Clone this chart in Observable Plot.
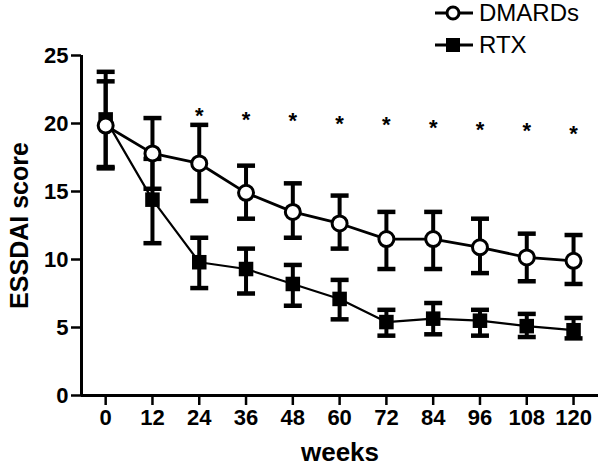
<!DOCTYPE html>
<html>
<head>
<meta charset="utf-8">
<script src="https://cdn.jsdelivr.net/npm/d3@7"></script>
<script src="https://cdn.jsdelivr.net/npm/@observablehq/plot@0.6"></script>
<style>
  body { margin: 0; background: #fff; }
  #wrap { position: relative; width: 600px; height: 466px; font-family: "Liberation Sans", Arial, sans-serif; }
  #legend { position: absolute; left: 434px; top: 0px; }
  .row { display: flex; align-items: center; height: 26px; font-size: 24px; color: #000; }
  .row + .row { margin-top: 6px; }
  .row svg { margin-right: 5px; }
</style>
</head>
<body>
<div id="wrap">
  <div id="chart"></div>
  <div id="legend">
    <div class="row"><svg width="40" height="20"><line x1="1" x2="39" y1="10" y2="10" stroke="#000" stroke-width="3"/><circle cx="19" cy="10" r="6" fill="#fff" stroke="#000" stroke-width="3"/></svg>DMARDs</div>
    <div class="row"><svg width="40" height="20"><line x1="1" x2="39" y1="10" y2="10" stroke="#000" stroke-width="3"/><rect x="12" y="3" width="14" height="14" fill="#000"/></svg>RTX</div>
  </div>
</div>
<script>
const weeks = [0, 12, 24, 36, 48, 60, 72, 84, 96, 108, 120];
const dmardsMean  = [19.85, 17.8, 17.06, 14.9, 13.5, 12.65, 11.5, 11.5, 10.9, 10.15, 9.9];
const dmardsUpper = [23.1, 20.4, 19.9, 16.9, 15.6, 14.7, 13.5, 13.5, 13.0, 11.9, 11.8];
const dmardsLower = [16.7, 15.2, 14.3, 13.0, 11.6, 10.8, 9.3, 9.3, 9.0, 8.4, 8.2];
const rtxMean  = [20.3, 14.4, 9.8, 9.3, 8.2, 7.1, 5.4, 5.65, 5.5, 5.1, 4.8];
const rtxUpper = [23.8, 17.4, 11.6, 10.8, 9.6, 8.5, 6.3, 6.8, 6.3, 6.0, 5.7];
const rtxLower = [16.8, 11.2, 7.9, 7.5, 6.6, 5.6, 4.4, 4.5, 4.4, 4.3, 4.2];
const starWeeks = [24, 36, 48, 60, 72, 84, 96, 108, 120];
const starY = [21.0, 20.7, 20.6, 20.4, 20.3, 20.1, 20.0, 19.9, 19.7];
const yTicks = [0, 5, 10, 15, 20, 25];
const xDomain = [-6.2, 126.4];
const yDomain = [0, 25];

const dmards = weeks.map((w, i) => ({week: w, mean: dmardsMean[i], lo: dmardsLower[i], hi: dmardsUpper[i]}));
const rtx = weeks.map((w, i) => ({week: w, mean: rtxMean[i], lo: rtxLower[i], hi: rtxUpper[i]}));
const stars = starWeeks.map((w, i) => ({week: w, y: starY[i]}));

const capSymbol = {
  draw(context, size) {
    const r = Math.sqrt(size / Math.PI);
    context.moveTo(-r, 0);
    context.lineTo(r, 0);
  }
};

function errorMarks(data) {
  return [
    Plot.ruleX(data, {x: "week", y1: "lo", y2: "hi", stroke: "#000", strokeWidth: 4}),
    Plot.dot(data, {x: "week", y: "lo", symbol: capSymbol, r: 9, stroke: "#000", strokeWidth: 4.5}),
    Plot.dot(data, {x: "week", y: "hi", symbol: capSymbol, r: 9, stroke: "#000", strokeWidth: 4.5})
  ];
}

const chart = Plot.plot({
  width: 600,
  height: 466,
  marginLeft: 81,
  marginRight: 2,
  marginTop: 55,
  marginBottom: 71,
  style: {fontFamily: "'Liberation Sans', Arial, sans-serif", background: "#fff", color: "#000"},
  x: {domain: xDomain, ticks: weeks, label: null},
  y: {domain: yDomain, ticks: yTicks, label: null},
  marks: [
    Plot.axisX({ticks: weeks, tickSize: 10, tickPadding: 4, fontSize: 22, fontWeight: "bold", strokeWidth: 2.5, label: null}),
    Plot.axisY({ticks: yTicks, tickSize: 10, tickPadding: 3, fontSize: 22, fontWeight: "bold", strokeWidth: 2.5, label: null}),
    Plot.ruleY([0], {stroke: "#000", strokeWidth: 3}),
    Plot.ruleX([xDomain[0]], {stroke: "#000", strokeWidth: 3}),
    Plot.text(["weeks"], {frameAnchor: "bottom", dy: 65, fontSize: 26, fontWeight: "bold", lineAnchor: "bottom"}),
    Plot.text(["ESSDAI score"], {frameAnchor: "left", dx: -62, rotate: -90, fontSize: 25, fontWeight: "bold", textAnchor: "middle"}),
    Plot.line(rtx, {x: "week", y: "mean", stroke: "#000", strokeWidth: 2.2}),
    Plot.line(dmards, {x: "week", y: "mean", stroke: "#000", strokeWidth: 2.8}),
    ...errorMarks(rtx),
    ...errorMarks(dmards),
    Plot.dot(rtx, {x: "week", y: "mean", symbol: "square", r: 8.2, fill: "#000"}),
    Plot.dot(dmards, {x: "week", y: "mean", symbol: "circle", r: 7.5, fill: "#fff", stroke: "#000", strokeWidth: 3}),
    Plot.text(stars, {x: "week", y: "y", text: () => "*", fontSize: 22, fontWeight: "bold", dy: 6})
  ]
});
document.getElementById("chart").appendChild(chart);
</script>
</body>
</html>
